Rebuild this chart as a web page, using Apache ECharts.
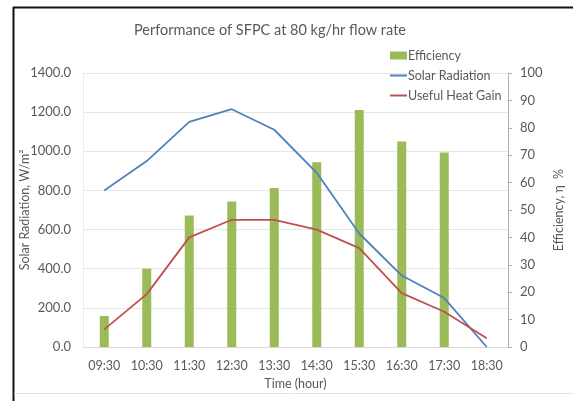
<!DOCTYPE html>
<html>
<head>
<meta charset="utf-8">
<script src="https://cdn.jsdelivr.net/npm/echarts@6/dist/echarts.min.js"></script>
<style>
  html, body { margin: 0; padding: 0; background: #fff; }
  #chart { width: 573px; height: 401px; }
</style>
</head>
<body>
<div id="chart"></div>
<script>
// time of day (x axis)
const hours = ["09:30", "10:30", "11:30", "12:30", "13:30", "14:30", "15:30", "16:30", "17:30", "18:30"];
// efficiency, % (right axis)
const efficiency = [11.3, 28.6, 48, 53.1, 58, 67.4, 86.5, 75, 71, null];
// solar radiation, W/m2 (left axis)
const solarRadiation = [800, 950, 1150, 1215, 1110, 890, 580, 365, 250, 0];
// useful heat gain (left axis)
const heatGain = [90, 270, 560, 650, 650, 600, 505, 275, 180, 45];

const textColor = "#595959";
const font = "Lato";

const chart = echarts.init(document.getElementById("chart"));

const option = {
  animation: false,
  textStyle: { fontFamily: font, color: textColor },
  title: {
    text: "Performance of SFPC at 80 kg/hr flow rate",
    left: 129,
    top: 18,
    textStyle: { fontFamily: font, fontSize: 14.5, fontWeight: "normal", color: textColor },
  },
  legend: {
    orient: "vertical",
    left: 384,
    top: 44,
    itemGap: 7,
    itemWidth: 17,
    itemHeight: 8,
    textStyle: { fontFamily: font, fontSize: 12.5, color: textColor, padding: [0, 0, 0, -4] },
    data: [
      { name: "Efficiency", icon: "rect" },
      { name: "Solar Radiation", itemStyle: { opacity: 0 } },
      { name: "Useful Heat Gain", itemStyle: { opacity: 0 } },
    ],
  },
  grid: { left: 83, right: 61, top: 73, bottom: 54 },
  xAxis: {
    type: "category",
    data: hours,
    name: "Time (hour)",
    nameLocation: "middle",
    nameGap: 30,
    nameTextStyle: { fontFamily: font, fontSize: 12.5, color: textColor },
    axisLine: { lineStyle: { color: "#d9d9d9" } },
    axisTick: { show: false },
    axisLabel: { fontFamily: font, fontSize: 12.5, color: textColor, margin: 12 },
  },
  yAxis: [
    {
      type: "value",
      min: 0,
      max: 1400,
      interval: 200,
      name: "Solar Radiation, W/m²",
      nameLocation: "middle",
      nameGap: 52,
      nameMoveOverlap: false,
      nameTextStyle: { fontFamily: font, fontSize: 12.5, color: textColor },
      axisLine: { show: true, lineStyle: { color: "#ececec" } },
      axisTick: { show: false },
      axisLabel: {
        fontFamily: font,
        fontSize: 13,
        color: textColor,
        margin: 12,
        formatter: (v) => v.toFixed(1),
      },
      splitLine: { lineStyle: { color: "#e6e6e6" } },
    },
    {
      type: "value",
      min: 0,
      max: 100,
      interval: 10,
      position: "right",
      name: "Efficiency, η  %",
      nameLocation: "middle",
      nameGap: 44,
      nameRotate: 90,
      nameMoveOverlap: false,
      nameTextStyle: { fontFamily: font, fontSize: 12.5, color: textColor },
      axisLine: { show: true, lineStyle: { color: "#a9b2bd" } },
      axisTick: { show: true, length: 4, lineStyle: { color: "#a9b2bd" } },
      axisLabel: { fontFamily: font, fontSize: 13, color: textColor, margin: 12 },
      splitLine: { show: false },
    },
  ],
  series: [
    {
      name: "Efficiency",
      type: "bar",
      yAxisIndex: 1,
      barWidth: 9,
      itemStyle: { color: "#9bbb59" },
      data: efficiency,
    },
    {
      name: "Solar Radiation",
      type: "line",
      yAxisIndex: 0,
      symbol: "none",
      lineStyle: { color: "#4f81bd", width: 1.8 },
      itemStyle: { color: "#4f81bd" },
      data: solarRadiation,
    },
    {
      name: "Useful Heat Gain",
      type: "line",
      yAxisIndex: 0,
      symbol: "none",
      lineStyle: { color: "#c0504d", width: 1.8 },
      itemStyle: { color: "#c0504d" },
      data: heatGain,
    },
  ],
  graphic: [
    { type: "line", shape: { x1: 13.5, y1: 7, x2: 13.5, y2: 401 }, style: { stroke: "#111", lineWidth: 2 } },
    { type: "line", shape: { x1: 13, y1: 7.5, x2: 573, y2: 7.5 }, style: { stroke: "#111", lineWidth: 2 } },
    { type: "line", shape: { x1: 14, y1: 393.5, x2: 573, y2: 393.5 }, style: { stroke: "#e3e3e3", lineWidth: 1 } },
  ],
};

chart.setOption(option);
</script>
</body>
</html>
